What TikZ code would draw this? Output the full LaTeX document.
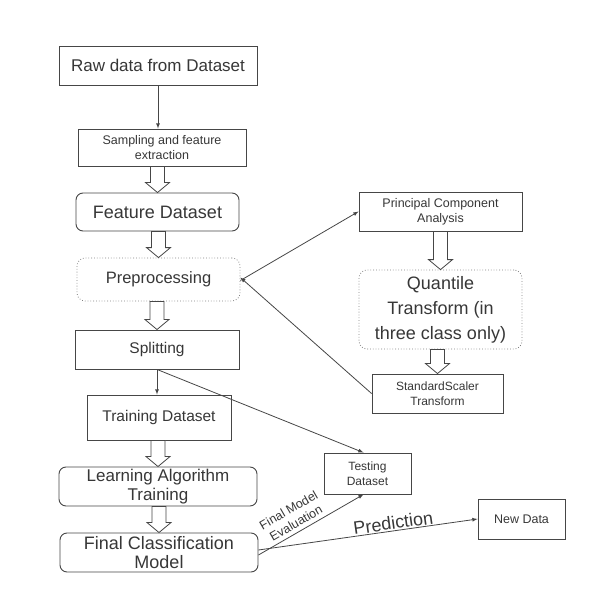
\documentclass[tikz,border=0pt]{standalone}
\usepackage{fontspec}
\setmainfont{Liberation Sans}
\usetikzlibrary{calc}
\definecolor{inkgray}{RGB}{55,55,55}
\definecolor{linegray}{RGB}{70,70,70}

\begin{document}
\begin{tikzpicture}[x=1pt,y=-1pt,>=latex,
  every node/.style={text=inkgray},
  box/.style={draw=linegray,line width=0.9pt,fill=white,align=center,inner sep=0pt},
  roundbox/.style={box,rounded corners=7pt},
  dotbox/.style={draw=gray,dotted,line width=0.8pt,rounded corners=8pt,align=center,inner sep=0pt},
  link/.style={->,draw=linegray,line width=0.8pt},
  hollow/.style={draw=linegray,line width=0.8pt,fill=white}]
  \useasboundingbox (0,0) rectangle (600,591);

  % main column
  \node[box,minimum width=198pt,minimum height=39pt,font=\fontsize{17}{20}\selectfont] (raw) at (158,65.5) {Raw data from Dataset};
  \node[box,minimum width=168pt,minimum height=37pt,font=\fontsize{12.5}{15}\selectfont] (samp) at (162,147.5) {Sampling and feature\\extraction};
  \node[roundbox,minimum width=163pt,minimum height=38pt,font=\fontsize{18}{21}\selectfont] (feat) at (157.5,212) {Feature Dataset};
  \node[dotbox,minimum width=163pt,minimum height=43pt,font=\fontsize{16.5}{20}\selectfont] (prep) at (158.5,279.5) {Preprocessing};
  \node[box,minimum width=164pt,minimum height=39pt,font=\fontsize{15.5}{18}\selectfont] (split) at (157,349.5) {Splitting};
  \node[box,minimum width=144pt,minimum height=45pt,font=\fontsize{15.5}{18}\selectfont] (train) at (159,417.5) {Training Dataset};
  \node[roundbox,minimum width=198pt,minimum height=39pt,font=\fontsize{17}{19}\selectfont] (learn) at (158,486.5) {Learning Algorithm\\Training};
  \node[roundbox,minimum width=198pt,minimum height=39pt,font=\fontsize{18}{19.5}\selectfont] (final) at (159,552.5) {Final Classification\\Model};

  % right column
  \node[box,minimum width=163pt,minimum height=39pt,font=\fontsize{12.5}{15}\selectfont] (pca) at (440.5,211.5) {Principal Component\\Analysis};
  \node[dotbox,minimum width=163pt,minimum height=79pt,font=\fontsize{18}{25}\selectfont] (quant) at (440.5,309.5) {Quantile\\Transform (in\\three class only)};
  \node[box,minimum width=131pt,minimum height=39pt,font=\fontsize{12}{15}\selectfont] (scaler) at (437.5,393.5) {StandardScaler\\Transform};
  \node[box,minimum width=87pt,minimum height=41pt,font=\fontsize{12}{15}\selectfont] (test) at (367.5,473.5) {Testing\\Dataset};
  \node[box,minimum width=87pt,minimum height=40pt,font=\fontsize{12.5}{15}\selectfont] (newd) at (521.5,519) {New Data};

  % hollow arrows
  \foreach \a/\b in {samp/feat, feat/prep, prep/split, train/learn, learn/final, pca/quant, quant/scaler}
  {
    \draw[hollow] let \p1=(\a.south), \p2=(\b.north) in
      (\x2-7pt,\y1) -- (\x2+7pt,\y1) -- (\x2+7pt,\y2+10pt) -- (\x2+12pt,\y2+10pt)
      -- (\x2,\y2) -- (\x2-12pt,\y2+10pt) -- (\x2-7pt,\y2+10pt) -- cycle;
  }

  % thin arrows
  \coordinate (fork) at (split.south);
  \draw[link] (raw.south) -- (raw.south |- samp.north);
  \draw[link] (fork) -- (fork |- train.north);
  \draw[link] (fork) -- ([xshift=-4pt]test.north);
  \draw[link] ([yshift=-1pt]prep.east) -- (pca.west);
  \draw[link] (scaler.west) -- ([yshift=2pt]prep.east);
  \draw[link] ([yshift=-2.5pt]final.east) -- node[sloped,above,pos=0.4,inner sep=4pt,font=\fontsize{12.5}{15}\selectfont,align=center] {Final Model\\Evaluation} ([xshift=-4pt]test.south);
  \draw[link] ([yshift=2.5pt]final.east) -- node[sloped,above,pos=0.62,inner sep=1pt,font=\fontsize{18}{20}\selectfont] {Prediction} (newd.west);
\end{tikzpicture}
\end{document}
